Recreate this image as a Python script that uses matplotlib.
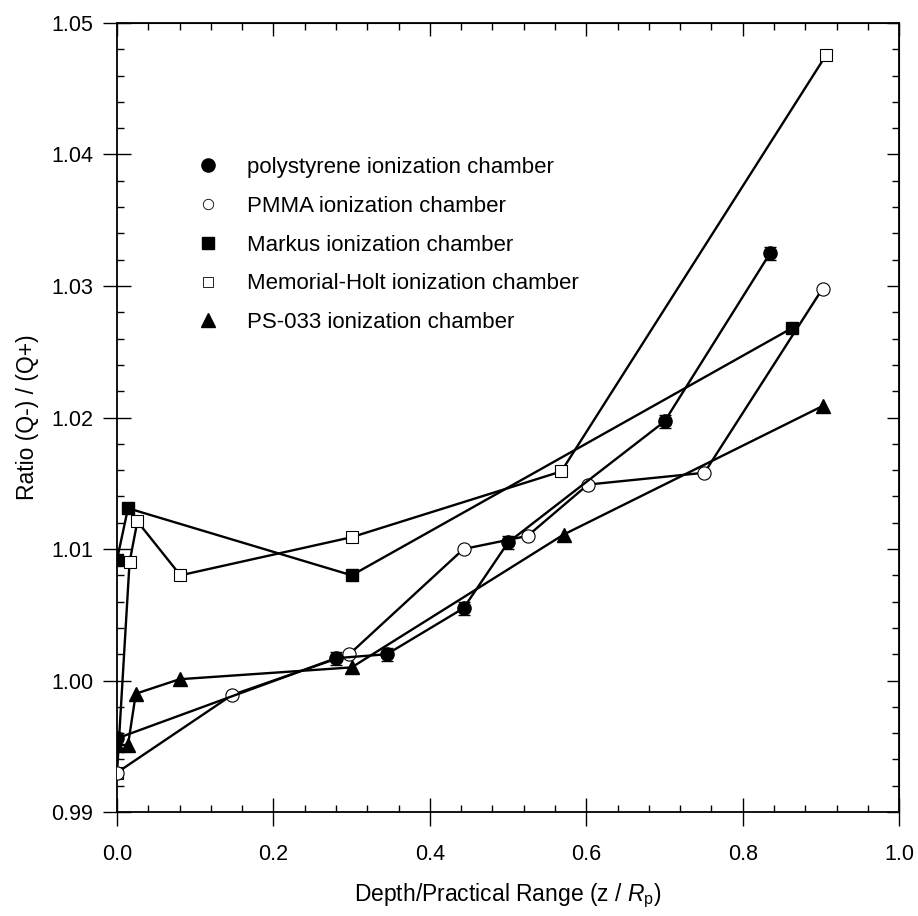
import numpy as np
import matplotlib.pyplot as plt
from matplotlib.lines import Line2D
from matplotlib.ticker import MultipleLocator

plt.rcParams['font.family'] = ['Liberation Sans', 'DejaVu Sans']
plt.rcParams['mathtext.fontset'] = 'custom'
plt.rcParams['mathtext.rm'] = 'Liberation Sans'
plt.rcParams['mathtext.it'] = 'Liberation Sans:italic'

# depth / practical range, ratio (Q-)/(Q+)
poly_x = [0.0, 0.28, 0.345, 0.443, 0.50, 0.70, 0.835]
poly_y = [0.9956, 1.0017, 1.0020, 1.0055, 1.0105, 1.0197, 1.0325]
poly_err = [0.0004, 0.0005, 0.0005, 0.0005, 0.0005, 0.0005, 0.0005]

pmma_x = [0.0, 0.147, 0.297, 0.443, 0.525, 0.602, 0.751, 0.902]
pmma_y = [0.9930, 0.9989, 1.0020, 1.0100, 1.0110, 1.0149, 1.0158, 1.0298]

markus_x = [0.0, 0.014, 0.300, 0.863]
markus_y = [1.0092, 1.0131, 1.0080, 1.0268]

mh_x = [0.0, 0.016, 0.026, 0.081, 0.300, 0.568, 0.907]
mh_y = [0.9930, 1.0090, 1.0121, 1.0080, 1.0109, 1.0159, 1.0476]

ps_x = [0.0, 0.014, 0.024, 0.080, 0.300, 0.571, 0.903]
ps_y = [0.9951, 0.9951, 0.9990, 1.0001, 1.0010, 1.0111, 1.0209]

labels = ["polystyrene ionization chamber", "PMMA ionization chamber",
          "Markus ionization chamber", "Memorial-Holt ionization chamber",
          "PS-033 ionization chamber"]

fig = plt.figure(figsize=(9.18, 9.16), dpi=100)
ax = fig.add_axes([0.1275, 0.1135, 0.852, 0.8614])

lw = 1.7
ms = 9.5

ax.plot(mh_x, mh_y, color="k", lw=lw, marker="s", ms=ms - 1, mfc="white", mec="k", mew=0.8, zorder=3)
ax.plot(markus_x, markus_y, color="k", lw=lw, marker="s", ms=ms - 1, mfc="k", mec="k", zorder=3)
ax.plot(ps_x, ps_y, color="k", lw=lw, marker="^", ms=ms + 0.5, mfc="k", mec="k", zorder=3)
ax.plot(pmma_x, pmma_y, color="k", lw=lw, marker="o", ms=ms, mfc="white", mec="k", mew=0.8, zorder=4)
ax.errorbar(poly_x, poly_y, yerr=poly_err, color="k", lw=lw, marker="o", ms=ms, mfc="k", mec="k",
            elinewidth=1, capsize=4, capthick=1, zorder=5)

ax.set_xlim(0, 1.0)
ax.set_ylim(0.99, 1.05)
ax.xaxis.set_major_locator(MultipleLocator(0.2))
ax.xaxis.set_minor_locator(MultipleLocator(0.04))
ax.yaxis.set_major_locator(MultipleLocator(0.01))
ax.yaxis.set_minor_locator(MultipleLocator(0.002))
ax.xaxis.set_major_formatter(lambda v, p: f"{v:.1f}")
ax.yaxis.set_major_formatter(lambda v, p: f"{v:.2f}")

for s in ax.spines.values():
    s.set_linewidth(1.3)

ax.tick_params(which="major", direction="inout", length=20, width=1, labelsize=15.5)
ax.tick_params(which="minor", direction="in", length=5, width=1)
ax.tick_params(axis="x", which="major", pad=13)
ax.tick_params(axis="y", which="major", pad=7)

top = ax.secondary_xaxis("top")
top.xaxis.set_major_locator(MultipleLocator(0.2))
top.xaxis.set_minor_locator(MultipleLocator(0.04))
top.tick_params(which="major", direction="in", length=9, width=1, labeltop=False)
top.tick_params(which="minor", direction="in", length=5, width=1)
right = ax.secondary_yaxis("right")
right.yaxis.set_major_locator(MultipleLocator(0.01))
right.yaxis.set_minor_locator(MultipleLocator(0.002))
right.tick_params(which="major", direction="in", length=9, width=1, labelright=False)
right.tick_params(which="minor", direction="in", length=5, width=1)

ax.set_xlabel(r"Depth/Practical Range (z / $\mathit{R}_\mathrm{p}$)", fontsize=16.5, labelpad=12)
ax.set_ylabel("Ratio (Q-) / (Q+)", fontsize=16.5, labelpad=9)

handles = [
    Line2D([], [], ls="none", marker="o", ms=ms, mfc="k", mec="k"),
    Line2D([], [], ls="none", marker="o", ms=ms - 2, mfc="white", mec="k", mew=0.6),
    Line2D([], [], ls="none", marker="s", ms=ms - 1, mfc="k", mec="k"),
    Line2D([], [], ls="none", marker="s", ms=ms - 2, mfc="white", mec="k", mew=0.6),
    Line2D([], [], ls="none", marker="^", ms=ms, mfc="k", mec="k"),
]
ax.legend(handles, labels, loc="upper left", bbox_to_anchor=(0.102, 0.830), frameon=False,
          fontsize=16, handlelength=1.0, handletextpad=1.26, labelspacing=0.8,
          borderpad=0, borderaxespad=0)

fig.savefig("out.png", dpi=100)
